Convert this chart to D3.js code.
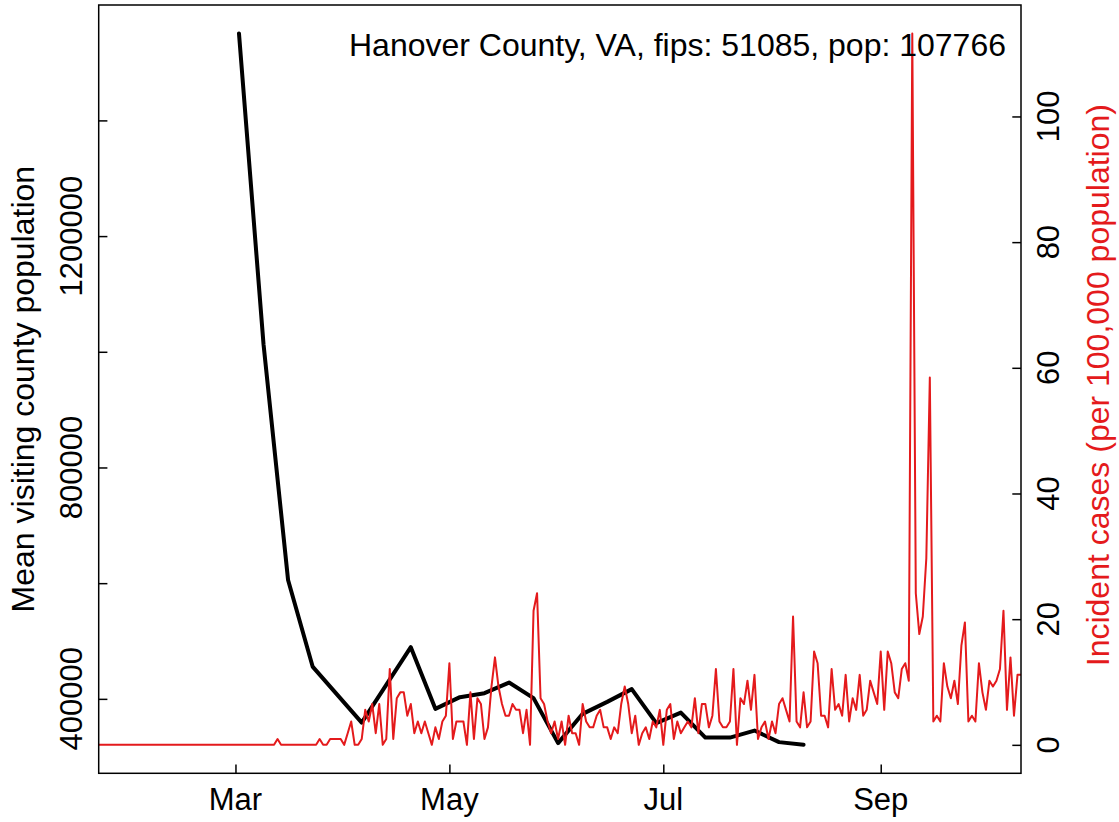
<!DOCTYPE html>
<html><head><meta charset="utf-8">
<script src="https://cdn.jsdelivr.net/npm/d3@7"></script>
<style>
body{margin:0;background:#fff}
svg{display:block}
text{font-family:"Liberation Sans",Arial,Helvetica,sans-serif}
</style>
</head><body><svg id="c" width="1119" height="822"></svg>
<script>
// ---------------- data ----------------
const countyLabel = "Hanover County, VA, fips: 51085, pop: 107766";
const countyPop = 107766;
const leftTitle = "Mean visiting county population";
const rightTitle = "Incident cases (per 100,000 population)";

// daily reported cases, starting 2020-01-22, one value per day through 2020-10-11
const caseStart = "2020-01-22";
const dailyCases = [
  0,0,0,0,0,0,0,0,0,0, 0,0,0,0,0,0,0,0,0,0,
  0,0,0,0,0,0,0,0,0,0, 0,0,0,0,0,0,0,0,0,0,
  0,0,0,0,0,0,0,0,0,0, 0,1,0,0,0,0,0,0,0,0,
  0,0,0,1,0,0,1,1,1,1, 0,2,4,0,0,1,6,4,7,2,
  7,0,1,13,1,8,9,9,5,7, 2,4,2,4,2,0,3,1,4,5,
  14,1,4,4,4,0,9,1,8,7, 1,3,10,15,10,7,5,5,7,6,
  6,2,6,0,23,26,8,7,4,2, 4,1,4,0,5,2,2,0,7,4,
  3,3,5,6,3,3,1,3,2,7, 10,7,2,5,0,2,3,1,4,3,
  6,0,6,7,1,4,2,3,4,3, 8,2,7,7,3,5,13,4,3,3,
  4,13,0,8,7,11,6,12,1,3, 4,1,4,2,7,8,6,4,22,4,
  3,9,3,4,16,14,5,5,3,13, 6,7,5,12,4,8,6,12,5,6,
  11,9,7,16,6,16,14,9,8,13, 14,11,122,26,19,22,32,63,4,5,
  4,14,10,8,11,7,17,21,4,5, 4,14,9,6,11,10,11,13,23,6,
  15,5,12,12
];

// weekly mean visiting county population
const mobilityDates = [
  "2020-03-02","2020-03-09","2020-03-16","2020-03-23","2020-03-30","2020-04-06",
  "2020-04-13","2020-04-20","2020-04-27","2020-05-04","2020-05-11","2020-05-18",
  "2020-05-25","2020-06-01","2020-06-08","2020-06-15","2020-06-22","2020-06-29",
  "2020-07-06","2020-07-13","2020-07-20","2020-07-27","2020-08-03","2020-08-10"
];
const mobilityValues = [
  1550300, 1013000, 605600, 455800, 407400, 359000,
  424200, 489300, 382700, 402900, 409800, 428200,
  401200, 323500, 374100, 394800, 416800, 358000,
  376300, 333100, 333100, 345200, 325200, 320500
];

const monthTickDates = ["2020-03-01","2020-05-01","2020-07-01","2020-09-01"];
const monthTickLabels = ["Mar","May","Jul","Sep"];
const leftTicks = [400000,600000,800000,1000000,1200000,1400000];
const leftTickLabels = ["400000","","800000","","1200000",""];
const rightTicks = [0,20,40,60,80,100];
const rightTickLabels = ["0","20","40","60","80","100"];

// ---------------- chart ----------------
const svg = d3.select("#c");
const L = 98.7, R = 1021, T = 5, B = 773.3;
const red = "#e41a1c";
const parse = d3.utcParse("%Y-%m-%d");

const start = parse(caseStart);
const cases = dailyCases.map((c,i)=>({date:d3.utcDay.offset(start,i), v:c*100000/countyPop}));
const mobility = mobilityDates.map((d,i)=>({date:parse(d), v:mobilityValues[i]}));

const x = d3.scaleUtc().domain(d3.extent(cases,d=>d.date)).range([L,R]);

function padded(ext){const s=ext[1]-ext[0];return [ext[0]-0.04*s, ext[1]+0.04*s];}
const yL = d3.scaleLinear().domain(padded(d3.extent(mobility,d=>d.v))).range([B,T]);
const yR = d3.scaleLinear().domain(padded(d3.extent(cases,d=>d.v))).range([B,T]);

const FS = 31;
const FT = 32;
const TICK = 8.7;

// black mobility line
svg.append("path")
  .datum(mobility)
  .attr("fill","none").attr("stroke","#000").attr("stroke-width",4)
  .attr("stroke-linejoin","round").attr("stroke-linecap","round")
  .attr("d", d3.line().x(d=>x(d.date)).y(d=>yL(d.v)));

// red incidence line
svg.append("path")
  .datum(cases)
  .attr("fill","none").attr("stroke",red).attr("stroke-width",2)
  .attr("stroke-linejoin","round")
  .attr("d", d3.line().x(d=>x(d.date)).y(d=>yR(d.v)));

// axes (inward ticks)
const gB = svg.append("g").attr("transform",`translate(0,${B})`)
  .call(d3.axisBottom(x).tickValues(monthTickDates.map(parse)).tickSizeInner(-TICK).tickSizeOuter(0).tickFormat(""));
const gL = svg.append("g").attr("transform",`translate(${L},0)`)
  .call(d3.axisLeft(yL).tickValues(leftTicks).tickSizeInner(-TICK).tickSizeOuter(0).tickFormat(""));
const gR = svg.append("g").attr("transform",`translate(${R},0)`)
  .call(d3.axisRight(yR).tickValues(rightTicks).tickSizeInner(-TICK).tickSizeOuter(0).tickFormat(""));
[gB,gL,gR].forEach(g=>{
  g.select(".domain").remove();
  g.selectAll(".tick line").attr("stroke","#000").attr("stroke-width",1.5);
});

// box
svg.append("rect").attr("x",L).attr("y",T).attr("width",R-L).attr("height",B-T)
  .attr("fill","none").attr("stroke","#000").attr("stroke-width",1.5);

// bottom labels
svg.append("g").selectAll("text").data(monthTickDates).join("text")
  .attr("x",d=>x(parse(d))).attr("y",810).attr("text-anchor","middle")
  .attr("font-size",FS).attr("fill","#000").text((d,i)=>monthTickLabels[i]);

// left labels
svg.append("g").selectAll("text").data(leftTicks).join("text")
  .attr("transform",d=>`translate(81.5,${yL(d)}) rotate(-90)`)
  .attr("text-anchor","middle").attr("font-size",FS).attr("fill","#000")
  .text((d,i)=>leftTickLabels[i]);

// right labels
svg.append("g").selectAll("text").data(rightTicks).join("text")
  .attr("transform",d=>`translate(1059,${yR(d)}) rotate(-90)`)
  .attr("text-anchor","middle").attr("font-size",FS).attr("fill","#000")
  .text((d,i)=>rightTickLabels[i]);

// axis titles
svg.append("text").attr("transform",`translate(34,${(T+B)/2}) rotate(-90)`)
  .attr("text-anchor","middle").attr("font-size",FT).attr("fill","#000").text(leftTitle);
svg.append("text").attr("transform",`translate(1109,${(T+B)/2 - 4}) rotate(-90)`)
  .attr("text-anchor","middle").attr("font-size",FT).attr("fill",red).text(rightTitle);

// county label
svg.append("text").attr("x",1006).attr("y",56).attr("text-anchor","end")
  .attr("font-size",FT).attr("fill","#000").text(countyLabel);
</script>
</body></html>
